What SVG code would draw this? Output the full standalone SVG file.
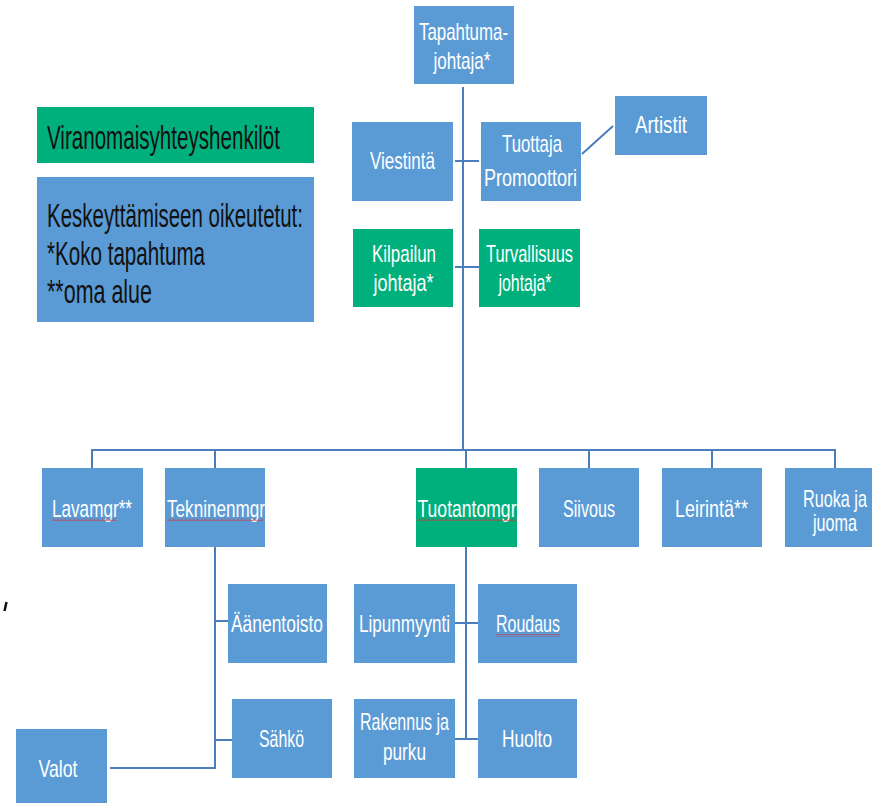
<svg xmlns="http://www.w3.org/2000/svg" width="873" height="803" viewBox="0 0 873 803">
<style>
.b{fill:#5b9bd5}
.g{fill:#00b07c}
.t{font-family:"Liberation Sans",Arial,sans-serif;font-size:24px;fill:#fff;text-anchor:middle}
.l{font-family:"Liberation Sans",Arial,sans-serif;font-size:33px;fill:#111}
.c{fill:none;stroke:#4a7ebb;stroke-width:2}
</style>
<defs>
<pattern id="sq" width="4" height="3" patternUnits="userSpaceOnUse"><path d="M0 2.5 L2 0.5 L4 2.5" stroke="#d83030" stroke-width="1" fill="none"/></pattern>
</defs>
<rect width="873" height="803" fill="#fff"/>
<g id="connectors" class="c">
<path d="M463 87 V450"/>
<path d="M455 161 H479"/>
<path d="M455 267 H479"/>
<path d="M582 154 L613 126"/>
<path d="M92 468 V450 H835 V468"/>
<path d="M215 450 V468"/>
<path d="M466 450 V468"/>
<path d="M589 450 V468"/>
<path d="M712 450 V468"/>
<path d="M215 547 V768 H110"/>
<path d="M215 621 H228"/>
<path d="M215 740 H232"/>
<path d="M466 547 V739"/>
<path d="M455 623 H478"/>
<path d="M455 739 H478"/>
</g>
<g id="legend-viranomais"><rect class="g" x="37" y="107" width="277" height="56"/><text class="l" x="47" y="149" font-size="32" textLength="233" lengthAdjust="spacingAndGlyphs">Viranomaisyhteyshenkilöt</text></g>
<g id="legend-keskeyttaminen"><rect class="b" x="37" y="177" width="277" height="145"/>
<text class="l" x="47" y="227" textLength="256" lengthAdjust="spacingAndGlyphs">Keskeyttämiseen oikeutetut:</text>
<text class="l" x="47" y="265" textLength="158" lengthAdjust="spacingAndGlyphs">*Koko tapahtuma</text>
<text class="l" x="47" y="303" textLength="105" lengthAdjust="spacingAndGlyphs">**oma alue</text></g>
<g id="tapahtumajohtaja"><rect class="b" x="414" y="6" width="100" height="78"/><text class="t" x="463.5" y="40" textLength="89" lengthAdjust="spacingAndGlyphs">Tapahtuma-</text><text class="t" x="462" y="69" textLength="57" lengthAdjust="spacingAndGlyphs">johtaja*</text></g>
<g id="viestinta"><rect class="b" x="352" y="122" width="101" height="79"/><text class="t" x="402.5" y="169" textLength="65" lengthAdjust="spacingAndGlyphs">Viestintä</text></g>
<g id="tuottaja"><rect class="b" x="481" y="122" width="100" height="79"/><text class="t" x="532" y="152" textLength="60" lengthAdjust="spacingAndGlyphs">Tuottaja</text><text class="t" x="530.5" y="186" textLength="93" lengthAdjust="spacingAndGlyphs">Promoottori</text></g>
<g id="artistit"><rect class="b" x="615" y="96" width="92" height="59"/><text class="t" x="661" y="133" textLength="52" lengthAdjust="spacingAndGlyphs">Artistit</text></g>
<g id="kilpailun"><rect class="g" x="353" y="229" width="100" height="78"/><text class="t" x="404" y="262" textLength="64" lengthAdjust="spacingAndGlyphs">Kilpailun</text><text class="t" x="403.5" y="291" textLength="60" lengthAdjust="spacingAndGlyphs">johtaja*</text></g>
<g id="turvallisuus"><rect class="g" x="479" y="229" width="101" height="78"/><text class="t" x="529.5" y="262" textLength="87" lengthAdjust="spacingAndGlyphs">Turvallisuus</text><text class="t" x="525" y="291" textLength="53" lengthAdjust="spacingAndGlyphs">johtaja*</text></g>
<g id="lavamgr"><rect class="b" x="42" y="468" width="101" height="79"/><text class="t" x="92" y="517" textLength="80" lengthAdjust="spacingAndGlyphs">Lavamgr**</text><rect x="52" y="518" width="65" height="3" fill="url(#sq)"/></g>
<g id="tekninenmgr"><rect class="b" x="165" y="468" width="100" height="79"/><text class="t" x="216" y="517" textLength="98" lengthAdjust="spacingAndGlyphs">Tekninenmgr</text><rect x="167" y="518" width="96" height="3" fill="url(#sq)"/></g>
<g id="tuotantomgr"><rect class="g" x="416" y="468" width="101" height="79"/><text class="t" x="467" y="517" textLength="99" lengthAdjust="spacingAndGlyphs">Tuotantomgr</text><rect x="418" y="518" width="99" height="3" fill="url(#sq)"/></g>
<g id="siivous"><rect class="b" x="539" y="468" width="100" height="79"/><text class="t" x="589" y="517" textLength="52" lengthAdjust="spacingAndGlyphs">Siivous</text></g>
<g id="leirinta"><rect class="b" x="662" y="468" width="100" height="79"/><text class="t" x="711.5" y="517" textLength="73" lengthAdjust="spacingAndGlyphs">Leirintä**</text></g>
<g id="ruoka"><rect class="b" x="785" y="468" width="87" height="79"/><text class="t" x="835" y="507" textLength="64" lengthAdjust="spacingAndGlyphs">Ruoka ja</text><text class="t" x="835" y="531" textLength="44" lengthAdjust="spacingAndGlyphs">juoma</text></g>
<g id="aanentoisto"><rect class="b" x="228" y="584" width="99" height="79"/><text class="t" x="277" y="632" textLength="92" lengthAdjust="spacingAndGlyphs">Äänentoisto</text></g>
<g id="sahko"><rect class="b" x="232" y="699" width="100" height="79"/><text class="t" x="281.5" y="747" textLength="45" lengthAdjust="spacingAndGlyphs">Sähkö</text></g>
<g id="valot"><rect class="b" x="16" y="729" width="91" height="80"/><text class="t" x="58" y="777" textLength="39" lengthAdjust="spacingAndGlyphs">Valot</text></g>
<g id="lipunmyynti"><rect class="b" x="354" y="584" width="101" height="79"/><text class="t" x="404.5" y="632" textLength="91" lengthAdjust="spacingAndGlyphs">Lipunmyynti</text></g>
<g id="roudaus"><rect class="b" x="478" y="584" width="99" height="79"/><text class="t" x="528" y="632" textLength="64" lengthAdjust="spacingAndGlyphs">Roudaus</text><rect x="496" y="634" width="64" height="3" fill="url(#sq)"/></g>
<g id="rakennus"><rect class="b" x="354" y="699" width="101" height="79"/><text class="t" x="404.5" y="730" textLength="89" lengthAdjust="spacingAndGlyphs">Rakennus ja</text><text class="t" x="404.5" y="760" textLength="43" lengthAdjust="spacingAndGlyphs">purku</text></g>
<g id="huolto"><rect class="b" x="478" y="699" width="99" height="79"/><text class="t" x="527" y="747" textLength="50" lengthAdjust="spacingAndGlyphs">Huolto</text></g>
<path d="M4.5 611 L6.5 602" stroke="#111" stroke-width="2.5" fill="none"/>
</svg>
